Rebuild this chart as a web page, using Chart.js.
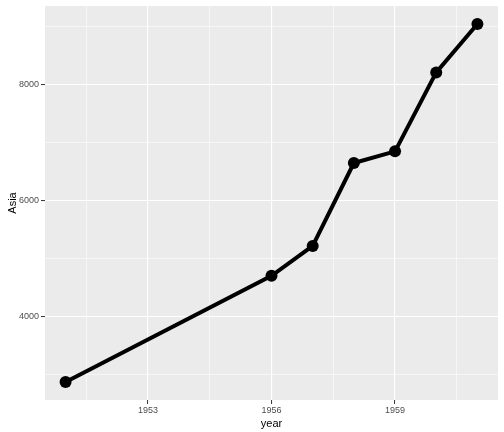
<!DOCTYPE html>
<html>
<head>
<meta charset="utf-8">
<script src="https://cdn.jsdelivr.net/npm/chart.js@4"></script>
<style>
html,body{margin:0;padding:0;background:#fff;}
#wrap{width:504px;height:432px;}
</style>
</head>
<body>
<div id="wrap"><canvas id="c" width="504" height="432"></canvas></div>
<script>
const years = [1951, 1956, 1957, 1958, 1959, 1960, 1961];
const asia = [2877, 4709, 5224, 6654, 6855, 8216, 9052];
const xTicks = [1951.5, 1953, 1954.5, 1956, 1957.5, 1959, 1960.5];
const xLabels = [1953, 1956, 1959];
const yTicks = [3000, 4000, 5000, 6000, 7000, 8000, 9000];
const yLabels = [4000, 6000, 8000];
const xTitle = 'year';
const yTitle = 'Asia';

const panelBg = {
  id: 'panelBg',
  beforeDraw(chart) {
    const {ctx, chartArea: a} = chart;
    ctx.save();
    ctx.fillStyle = '#EBEBEB';
    ctx.fillRect(a.left, a.top, a.right - a.left, a.bottom - a.top);
    ctx.restore();
  }
};

const isMajorX = v => xLabels.includes(v);
const isMajorY = v => yLabels.includes(v);

new Chart(document.getElementById('c'), {
  type: 'line',
  data: {
    datasets: [{
      data: years.map((y, i) => ({x: y, y: asia[i]})),
      borderColor: '#000',
      backgroundColor: '#000',
      borderWidth: 4,
      pointRadius: 6,
      pointHoverRadius: 6,
      pointBorderWidth: 0,
      tension: 0,
      clip: false
    }]
  },
  options: {
    responsive: false,
    animation: false,
    devicePixelRatio: 1,
    layout: {padding: {left: 0, top: 4, right: 6, bottom: 0}},
    plugins: {legend: {display: false}, tooltip: {enabled: false}},
    scales: {
      x: {
        type: 'linear',
        min: 1950.5,
        max: 1961.5,
        afterBuildTicks(s) { s.ticks = xTicks.map(v => ({value: v})); },
        afterFit(s) { s.height = 32; s.paddingLeft = 0; s.paddingRight = 0; },
        border: {display: false},
        grid: {
          color: '#FFFFFF',
          lineWidth: c => isMajorX(c.tick.value) ? 1.1 : 0.55,
          tickColor: c => isMajorX(c.tick.value) ? '#333333' : 'rgba(0,0,0,0)',
          tickWidth: 1,
          tickLength: 4
        },
        ticks: {
          autoSkip: false,
          maxRotation: 0,
          padding: 1,
          color: '#4D4D4D',
          font: {family: 'Liberation Sans', size: 9},
          callback: v => isMajorX(v) ? String(v) : ''
        },
        title: {
          display: true,
          text: xTitle,
          color: '#000',
          font: {family: 'Liberation Sans', size: 11},
          padding: {top: 0, bottom: 1}
        }
      },
      y: {
        type: 'linear',
        min: 2568,
        max: 9361,
        afterBuildTicks(s) { s.ticks = yTicks.map(v => ({value: v})); },
        afterFit(s) { s.width = 45; s.paddingTop = 0; s.paddingBottom = 0; },
        border: {display: false},
        grid: {
          color: '#FFFFFF',
          lineWidth: c => isMajorY(c.tick.value) ? 1.1 : 0.55,
          tickColor: c => isMajorY(c.tick.value) ? '#333333' : 'rgba(0,0,0,0)',
          tickWidth: 1,
          tickLength: 4
        },
        ticks: {
          autoSkip: false,
          padding: 2,
          color: '#4D4D4D',
          font: {family: 'Liberation Sans', size: 9},
          callback: v => isMajorY(v) ? String(v) : ''
        },
        title: {
          display: true,
          text: yTitle,
          color: '#000',
          font: {family: 'Liberation Sans', size: 11},
          padding: {top: 6, bottom: 4}
        }
      }
    }
  },
  plugins: [panelBg]
});
</script>
</body>
</html>
